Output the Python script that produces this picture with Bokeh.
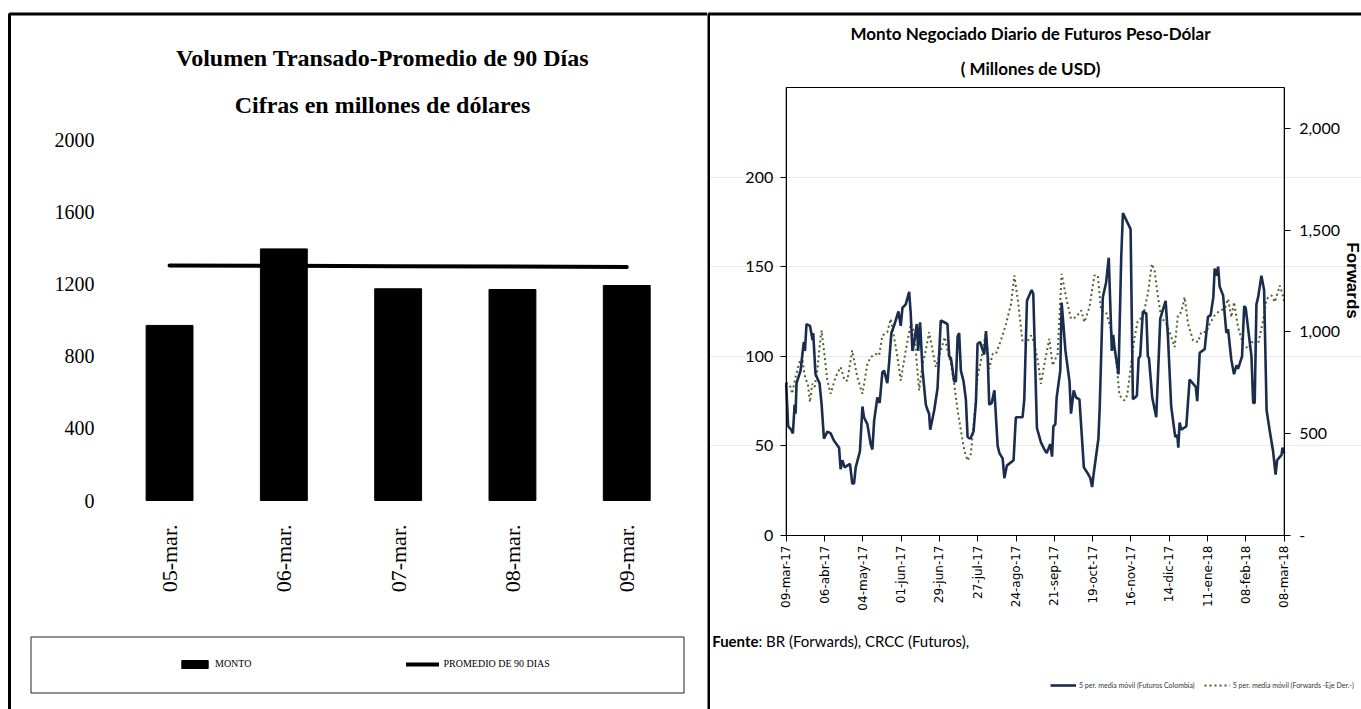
import math
from bokeh.plotting import figure
from bokeh.models import (Range1d, LinearAxis, FixedTicker, Label, BoxAnnotation,
                          Legend, LegendItem, NumeralTickFormatter)
from bokeh.layouts import row
from bokeh.embed import file_html
from bokeh.resources import INLINE

# ---------------- Left chart data ----------------
dias = ["05-mar.", "06-mar.", "07-mar.", "08-mar.", "09-mar."]
monto = [970, 1394, 1173, 1169, 1191]
promedio_90 = [1302, 1300, 1298, 1296, 1293]
ticks_izq = [0, 400, 800, 1200, 1600, 2000]

# ---------------- Right chart data ----------------
fechas_ticks = ["09-mar-17", "06-abr-17", "04-may-17", "01-jun-17", "29-jun-17",
                "27-jul-17", "24-ago-17", "21-sep-17", "19-oct-17", "16-nov-17",
                "14-dic-17", "11-ene-18", "08-feb-18", "08-mar-18"]
dias_ticks = [0, 20, 40, 60, 80, 100, 120, 140, 160, 180, 200, 220, 240, 260]

# trading-day index of each read point, futuros (left axis)
fut_dia = [0, 1.0, 2.6, 3.5, 4.4, 4.9, 5.4, 7.5, 9.2, 9.8,
           10.6, 12.4, 13.1, 13.8, 14.1, 15.3, 17.4, 18.5, 19.7, 21.5,
           23.2, 24.9, 27.6, 28.4, 29.3, 30.5, 33.3, 34.5, 35.4, 36.3,
           38.5, 39.8, 40.6, 42.4, 44.1, 45.0, 45.9, 47.6, 48.8, 50.2,
           51.1, 52.8, 53.7, 54.9, 56.3, 58.6, 59.8, 60.7, 62.4, 64.2,
           65.0, 65.9, 66.8, 68.2, 68.9, 69.9, 71.2, 72.9, 73.8, 74.6,
           75.2, 77.3, 79.0, 80.7, 82.5, 84.2, 85.1, 86.0, 87.7, 88.6,
           89.5, 90.3, 91.2, 92.6, 93.8, 94.7, 96.1, 97.8, 99.1, 99.9,
           101.2, 103.4, 104.3, 105.2, 106.0, 107.3, 108.7, 110.4, 111.3, 113.0,
           113.9, 115.2, 118.7, 119.9, 123.4, 124.3, 125.7, 128.1, 129.0, 130.9,
           133.0, 134.8, 136.0, 137.9, 138.8, 139.5, 140.5, 141.2, 143.1, 143.8,
           144.7, 145.8, 147.9, 148.7, 150.1, 151.3, 153.1, 155.4, 157.8, 158.8,
           159.7, 160.6, 163.0, 163.7, 165.3, 167.0, 168.4, 170.0, 170.7, 171.4,
           173.5, 174.9, 175.8, 178.0, 179.8, 181.0, 183.1, 184.0, 184.8, 186.2,
           188.0, 188.8, 189.4, 191.1, 193.2, 195.3, 198.1, 199.3, 201.0, 203.1,
           204.2, 204.7, 205.4, 206.3, 208.9, 210.6, 213.8, 214.6, 215.9, 218.5,
           220.2, 221.6, 223.0, 223.7, 224.6, 225.5, 226.3, 228.1, 229.8, 230.7,
           232.4, 233.8, 235.1, 235.9, 238.0, 239.1, 239.9, 241.2, 242.9, 243.8,
           244.6, 245.5, 246.4, 248.1, 249.5, 250.8, 252.5, 254.2, 255.5, 256.3,
           258.6, 259.1, 260.0]
fut_valor = [85, 61, 59, 57, 73, 68, 85, 92, 108, 103,
             118, 117, 113, 109, 113, 90, 85, 73, 54, 58,
             57, 53, 49, 37, 42, 38, 40, 29, 29, 38,
             47, 72, 66, 62, 51, 48, 64, 77, 74, 91,
             92, 85, 96, 113, 117, 125, 117, 127, 129, 136,
             124, 103, 108, 118, 103, 119, 92, 73, 70, 68,
             59, 70, 82, 120, 119, 118, 100, 99, 86, 86,
             111, 113, 92, 86, 76, 55, 54, 58, 75, 107,
             108, 101, 114, 100, 73, 74, 81, 50, 46, 43,
             32, 39, 42, 66, 66, 76, 131, 137, 135, 60,
             52, 48, 46, 51, 44, 61, 62, 77, 92, 130,
             118, 103, 86, 68, 81, 77, 76, 38, 34, 32,
             27, 35, 54, 72, 133, 141, 155, 103, 112, 105,
             90, 155, 180, 175, 171, 76, 78, 99, 100, 125,
             124, 100, 99, 77, 66, 121, 131, 111, 72, 55,
             56, 49, 63, 59, 61, 87, 83, 75, 102, 104,
             122, 123, 133, 149, 145, 150, 139, 134, 113, 115,
             98, 90, 95, 93, 100, 128, 127, 115, 100, 74,
             74, 129, 133, 145, 137, 70, 58, 47, 34, 42,
             45, 49, 46]

# forwards (right axis)
fwd_dia = [0, 2.3, 3.1, 4.9, 6.6, 8.4, 9.2, 10.1, 11.3, 12.4,
           13.6, 14.8, 16.2, 18.0, 18.5, 19.7, 21.5, 23.2, 25.8, 28.4,
           30.5, 31.9, 34.5, 37.1, 39.8, 42.4, 44.1, 46.7, 48.5, 50.2,
           52.8, 54.6, 56.3, 58.1, 59.8, 62.4, 65.1, 66.8, 69.4, 71.2,
           72.9, 74.6, 76.4, 78.1, 80.7, 82.8, 84.2, 86.0, 87.7, 89.5,
           91.2, 93.0, 94.7, 96.4, 98.2, 99.9, 101.7, 104.3, 106.0, 107.8,
           109.5, 112.1, 114.8, 117.4, 119.1, 120.9, 123.4, 125.2, 127.8, 129.5,
           131.6, 133.0, 134.8, 137.4, 139.1, 141.7, 143.8, 146.1, 148.7, 151.3,
           154.0, 155.7, 158.3, 160.9, 162.7, 164.4, 167.0, 169.7, 172.3, 174.0,
           176.6, 178.0, 180.1, 181.9, 183.6, 186.2, 188.8, 190.9, 192.3, 194.1,
           195.8, 198.4, 200.2, 202.8, 204.5, 206.3, 208.0, 209.8, 212.4, 215.0,
           216.7, 219.4, 221.1, 223.7, 226.3, 229.0, 230.7, 232.4, 233.8, 235.9,
           238.5, 241.2, 243.8, 246.4, 249.0, 250.8, 253.4, 255.1, 257.7, 259.5,
           260.0]
fwd_valor = [753, 729, 696, 778, 843, 876, 810, 769, 745, 655,
             745, 729, 810, 974, 1007, 909, 761, 696, 778, 827,
             761, 761, 909, 778, 696, 843, 876, 892, 884, 982,
             999, 1064, 974, 876, 761, 909, 1040, 999, 712, 843,
             909, 999, 909, 827, 909, 974, 909, 843, 745, 614,
             516, 417, 368, 401, 581, 778, 860, 999, 819, 892,
             892, 958, 1040, 1138, 1277, 1160, 950, 941, 982, 950,
             843, 745, 843, 966, 835, 892, 1285, 1171, 1064, 1072,
             1105, 1048, 1121, 1277, 1277, 1105, 1097, 1007, 860, 688,
             663, 688, 843, 974, 1056, 1072, 1187, 1334, 1302, 1171,
             1072, 1040, 999, 925, 1081, 1097, 1171, 1040, 958, 950,
             999, 999, 1040, 1081, 1105, 1113, 1162, 1072, 1146, 1023,
             941, 917, 958, 941, 1056, 1162, 1179, 1146, 1228, 1171,
             1146]

SERIF = "Liberation Serif"
SANS = "Lato"

# ======================= LEFT PANEL =======================
W1, H = 707, 709
X0_1, CAT_W = 111.9, 114.3        # left edge of the category area, px per category
Y0_1, PX_V1 = 500.0, 0.1805       # pixel row of value 0, px per unit


def xd1(px):
    return (px - X0_1) / CAT_W + 0.5


def vd1(py):
    return (Y0_1 - py) / PX_V1


pos = list(range(1, len(dias) + 1))

p1 = figure(x_range=Range1d(xd1(0), xd1(W1)), y_range=Range1d(vd1(H), vd1(0)),
            width=W1, height=H, output_backend="svg", toolbar_location=None,
            min_border=0, min_border_left=0, min_border_right=0,
            min_border_top=0, min_border_bottom=0)
p1.outline_line_color = None
p1.grid.visible = False
p1.background_fill_color = "white"
p1.border_fill_color = "white"

barras = p1.vbar(x=pos, top=monto, width=0.41, fill_color="black", line_color="black")
linea = p1.line(x=pos, y=promedio_90, line_color="black", line_width=4, line_cap="round")

xa = p1.xaxis[0]
xa.fixed_location = 0
xa.ticker = FixedTicker(ticks=pos)
xa.major_label_overrides = {p: d for p, d in zip(pos, dias)}
xa.axis_line_color = None
xa.major_tick_line_color = None
xa.minor_tick_line_color = None
xa.major_label_orientation = math.pi / 2
xa.major_label_text_font = SERIF
xa.major_label_text_font_size = "22px"
xa.major_label_text_color = "black"
xa.major_label_standoff = 18

ya = p1.yaxis[0]
ya.fixed_location = xd1(X0_1)
ya.ticker = FixedTicker(ticks=ticks_izq)
ya.axis_line_color = None
ya.major_tick_line_color = None
ya.minor_tick_line_color = None
ya.major_label_text_font = SERIF
ya.major_label_text_font_size = "20px"
ya.major_label_text_color = "black"
ya.major_label_standoff = 12

for txt, py in [("Volumen Transado-Promedio de 90 Días", 57),
                ("Cifras en millones de dólares", 104)]:
    p1.add_layout(Label(x=xd1(382), y=vd1(py), text=txt, text_align="center",
                        text_baseline="middle", text_font=SERIF,
                        text_font_style="bold", text_font_size="24px",
                        text_color="black"))

leg1 = Legend(items=[LegendItem(label="MONTO", renderers=[barras]),
                     LegendItem(label="PROMEDIO DE 90 DIAS", renderers=[linea])],
              orientation="horizontal", location=(178, H - 664 - 5),
              glyph_width=33, glyph_height=10, spacing=155, label_standoff=4,
              padding=0, margin=0, border_line_alpha=0, background_fill_alpha=0,
              label_text_font=SERIF, label_text_font_size="10px",
              label_text_color="black", label_height=10)
p1.add_layout(leg1, "center")

# legend frame
p1.add_layout(BoxAnnotation(left=xd1(30.5), right=xd1(683.5), top=vd1(636.5), bottom=vd1(692.5),
                            fill_alpha=0, line_color="#222222", line_alpha=1, line_width=1))
# panel frame
p1.add_layout(BoxAnnotation(left=xd1(9), right=xd1(760), top=vd1(13.5), bottom=vd1(760),
                            fill_alpha=0, line_color="black", line_alpha=1, line_width=3))

# ======================= RIGHT PANEL =======================
W2 = 654
OFF2 = 707.0                       # page x where the right panel starts
X0_2, PX_D = 785.7, 1.9154         # page x of day 0, px per trading day
Y0_2, PX_V2 = 535.0, 1.792         # page y of value 0, px per unit (left axis)
FWD_K = 2200 / 250                 # right-axis units per left-axis unit


def xd2(px):
    return (px - X0_2) / PX_D


def vd2(py):
    return (Y0_2 - py) / PX_V2


p2 = figure(x_range=Range1d(xd2(OFF2), xd2(OFF2 + W2)), y_range=Range1d(vd2(H), vd2(0)),
            width=W2, height=H, output_backend="svg", toolbar_location=None,
            min_border=0, min_border_left=0, min_border_right=0,
            min_border_top=0, min_border_bottom=0)
p2.extra_y_ranges = {"fwd": Range1d(vd2(H) * FWD_K, vd2(0) * FWD_K)}
p2.outline_line_color = None
p2.background_fill_color = "white"
p2.border_fill_color = "white"

p2.xgrid.visible = False
p2.ygrid.ticker = FixedTicker(ticks=[50, 100, 150, 200])
p2.ygrid.grid_line_color = "#EAEAEA"
p2.ygrid.bounds = (0, 260)

l_fwd = p2.line(fwd_dia, fwd_valor, y_range_name="fwd", line_color="#4F6228",
                line_width=2, line_dash="2 3")
l_fut = p2.line(fut_dia, fut_valor, line_color="#1B2D4D", line_width=2.6)

# plot-area box
p2.add_layout(BoxAnnotation(left=0, right=260, bottom=0, top=250,
                            fill_alpha=0, line_color="black", line_alpha=1, line_width=1))

bx = p2.xaxis[0]
bx.fixed_location = 0
bx.bounds = (0, 260)
bx.ticker = FixedTicker(ticks=dias_ticks)
bx.major_label_overrides = {d: f for d, f in zip(dias_ticks, fechas_ticks)}
bx.major_label_orientation = math.pi / 2
bx.major_label_text_font = "DejaVu Sans"
bx.major_label_text_font_size = "12px"
bx.major_label_text_color = "black"
bx.major_tick_out = 6
bx.major_tick_in = 0
bx.minor_tick_line_color = None
bx.major_label_standoff = 4
bx.axis_line_color = "black"

ly = p2.yaxis[0]
ly.fixed_location = 0
ly.bounds = (0, 250)
ly.ticker = FixedTicker(ticks=[0, 50, 100, 150, 200])
ly.major_label_text_font = SANS
ly.major_label_text_font_size = "16px"
ly.major_label_text_color = "black"
ly.major_tick_out = 6
ly.major_tick_in = 0
ly.minor_tick_line_color = None
ly.major_label_standoff = 7

ry = LinearAxis(y_range_name="fwd", ticker=FixedTicker(ticks=[0, 500, 1000, 1500, 2000]),
                formatter=NumeralTickFormatter(format="0,0"))
ry.fixed_location = 260
ry.bounds = (0, 2200)
ry.major_label_overrides = {0: "-"}
ry.major_label_text_font = SANS
ry.major_label_text_font_size = "16px"
ry.major_label_text_color = "black"
ry.major_tick_out = 6
ry.major_tick_in = 0
ry.minor_tick_line_color = None
ry.major_label_standoff = 9
p2.add_layout(ry, "right")

for txt, py in [("Monto Negociado Diario de Futuros Peso-Dólar", 33),
                ("( Millones de USD)", 68)]:
    p2.add_layout(Label(x=xd2(1030), y=vd2(py), text=txt, text_align="center",
                        text_baseline="middle", text_font=SANS,
                        text_font_style="bold", text_font_size="17px",
                        text_color="black"))

p2.add_layout(Label(x=xd2(1352), y=vd2(280), text="Forwards", angle=-math.pi / 2,
                    text_align="center", text_baseline="middle",
                    text_font="Liberation Sans", text_font_style="bold",
                    text_font_size="17px", text_color="black"))

p2.add_layout(Label(x=xd2(758), y=vd2(640), text="Fuente", text_align="right",
                    text_baseline="middle", text_font=SANS,
                    text_font_style="bold", text_font_size="15px", text_color="black"))
p2.add_layout(Label(x=xd2(758), y=vd2(640),
                    text=": BR (Forwards), CRCC (Futuros),",
                    text_align="left", text_baseline="middle", text_font=SANS,
                    text_font_size="15px", text_color="black"))

leg2 = Legend(items=[LegendItem(label="5 per. media móvil (Futuros Colombia)", renderers=[l_fut]),
                     LegendItem(label="5 per. media móvil (Forwards -Eje Der.-)", renderers=[l_fwd])],
              orientation="horizontal", location=(1050 - OFF2, H - 685 - 4),
              glyph_width=26, glyph_height=8, spacing=9, label_standoff=3,
              padding=0, margin=0, border_line_alpha=0, background_fill_alpha=0,
              label_text_font=SANS, label_text_font_size="7px",
              label_text_color="#333333", label_height=8)
p2.add_layout(leg2, "center")

# panel frame (left edge = divider between the two panels)
p2.add_layout(BoxAnnotation(left=xd2(708), right=xd2(1420), top=vd2(13.5), bottom=vd2(760),
                            fill_alpha=0, line_color="black", line_alpha=1, line_width=3))

layout = row(p1, p2, spacing=0)
open("out.html", "w").write(file_html(layout, INLINE))
